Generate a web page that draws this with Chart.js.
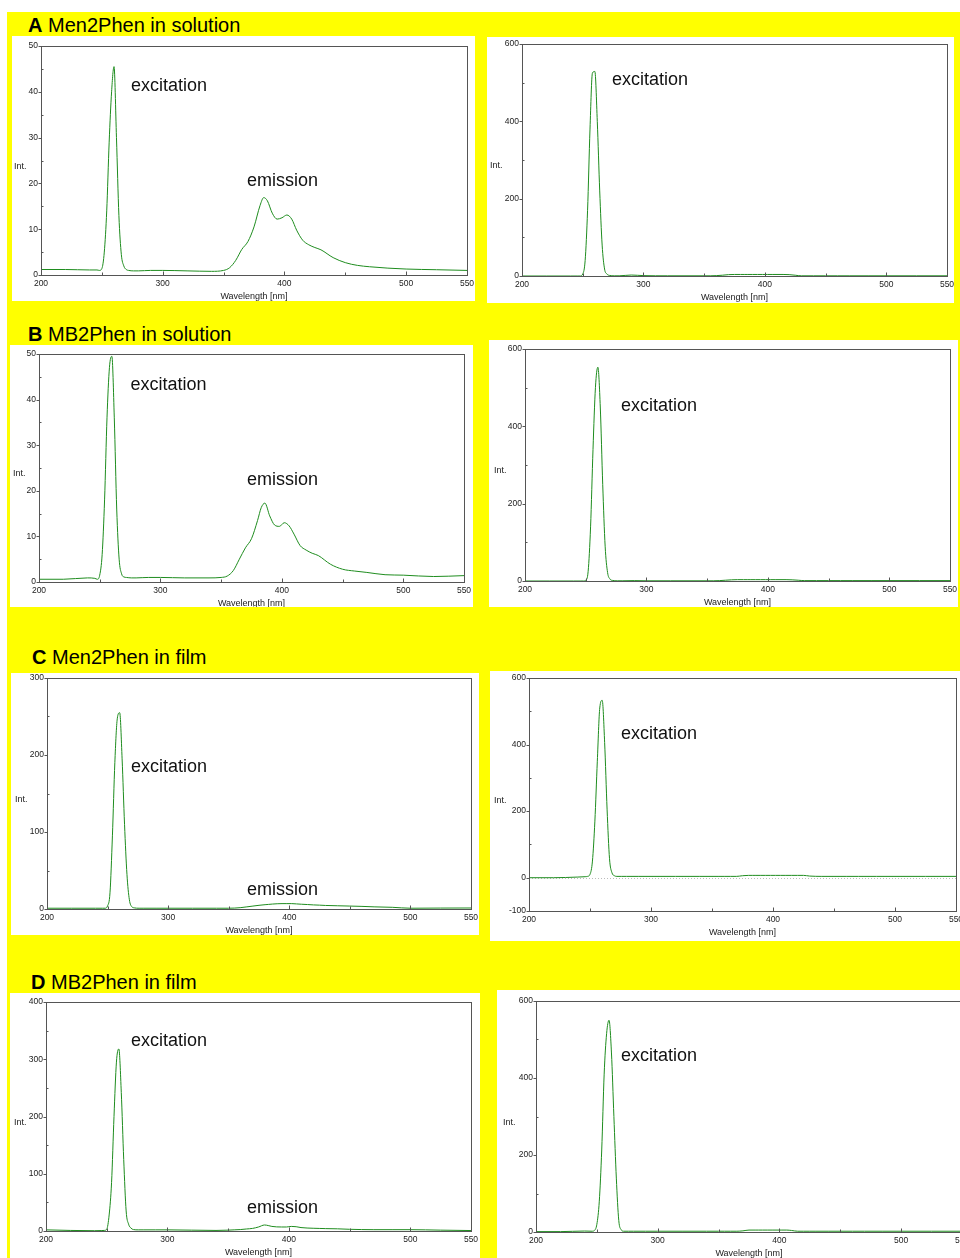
<!DOCTYPE html>
<html>
<head>
<meta charset="utf-8">
<script src="https://cdn.jsdelivr.net/npm/chart.js@4.4.1/dist/chart.umd.min.js"></script>
<style>
  html, body { margin: 0; padding: 0; background: #fff; overflow: hidden; }
  #page { position: relative; width: 960px; height: 1258px; overflow: hidden; }
  #yellow { position: absolute; left: 7px; top: 12px; width: 953px; height: 1246px; background: #ffff00; }
  .box { position: absolute; background: #fff; }
  .sec { position: absolute; font: 20px/24px "Liberation Sans", Arial, sans-serif; color: #000; white-space: nowrap; }
  canvas { position: absolute; }
</style>
</head>
<body>
<div id="page">
  <div id="yellow"></div>
  <div class="sec" style="left:28px;top:13px"><b>A</b> Men2Phen in solution</div>
  <div class="sec" style="left:28px;top:322px"><b>B</b> MB2Phen in solution</div>
  <div class="sec" style="left:32px;top:645px"><b>C</b> Men2Phen in film</div>
  <div class="sec" style="left:31px;top:970px"><b>D</b> MB2Phen in film</div>
</div>
<script>
// wavelength grid shared by all spectra (nm)
const wavelengths = [
  200, 220, 240, 246, 248, 250, 252, 254, 256, 258,
  260, 262, 264, 266, 268, 270, 272, 276, 280, 290,
  300, 320, 340, 350, 355, 360, 365, 370, 375, 380,
  383, 386, 390, 394, 398, 402, 406, 410, 415, 420,
  425, 430, 440, 450, 460, 470, 485, 500, 525, 550
]

// A: Men2Phen in solution
const men2PhenSol = [
  1.2, 1.2, 1.1, 1.1, 1.0, 1.4, 5, 14, 29, 40,
  45.5, 30, 13, 4.5, 2.0, 1.2, 1.0, 0.9, 0.9, 1.0,
  1.0, 0.9, 0.8, 1.0, 1.6, 3.2, 5.6, 7.3, 10.5, 15.2,
  16.9, 16.2, 13.5, 12.2, 12.5, 13.1, 12.2, 9.8, 7.6, 6.6,
  6.0, 5.5, 3.8, 2.7, 2.1, 1.8, 1.5, 1.3, 1.15, 1.0
]
const men2PhenSolExc = [
  0, 0, 0, 0, 0, 5, 40, 170, 380, 525,
  529, 400, 220, 80, 18, 5, 1.5, 0.5, 0.5, 2.5,
  1, 0.5, 0.5, 0.5, 0.5, 1, 2, 3.5, 4, 4,
  4, 4, 4, 4, 4, 4, 4, 4, 4, 3.5,
  2, 0.5, 0.5, 0.5, 0.5, 0.5, 0.5, 0.5, 0.5, 0.5
]

// B: MB2Phen in solution
const mb2PhenSol = [
  0.6, 0.6, 0.9, 0.8, 0.6, 1.5, 6, 18, 36, 47,
  49.5, 36, 16, 5, 1.8, 1.1, 1.0, 0.9, 0.9, 1.0,
  1.0, 0.9, 0.9, 1.0, 1.3, 2.5, 5, 7.5, 9.5, 13.5,
  16.3, 17.3, 14.5, 12.5, 12.2, 13, 12.3, 10.5, 8, 7,
  6.3, 5.8, 3.9, 2.8, 2.4, 2.1, 1.6, 1.5, 1.2, 1.4
]
const mb2PhenSolExc = [
  0, 0, 0, 0, 0, 2, 25, 140, 340, 500,
  553, 450, 250, 90, 22, 5, 1.5, 0.5, 0.5, 1,
  0.5, 0.5, 0.5, 0.5, 0.5, 1, 2, 3, 3.5, 3.5,
  3.5, 3.5, 3.5, 3.5, 3.5, 3.5, 3.5, 3.5, 3.5, 3,
  2, 1, 1, 1, 1, 1, 1, 1, 1, 1
]

// C: Men2Phen in film
const men2PhenFilm = [
  1, 1, 1, 1, 1, 4, 21, 95, 190, 247,
  255, 195, 110, 45, 12, 3, 1.5, 1, 1, 1,
  1, 1, 1, 1, 1.2, 1.8, 2.8, 3.8, 4.8, 5.6,
  6, 6.4, 6.8, 7, 7, 7, 6.6, 6.2, 5.8, 5.3,
  5, 4.6, 4.2, 3.8, 3.4, 2.8, 2.2, 1.0, 1.2, 1.3
]
const men2PhenFilmExc = [
  0, 0, 2, 3, 4, 10, 50, 170, 350, 510,
  533, 406, 206, 57, 15, 6, 4, 4, 4, 4,
  4, 4, 4, 4, 4, 4, 4, 4, 6, 7,
  7, 7, 7, 7, 7, 7, 7, 7, 7, 7,
  7, 5, 4, 4, 4, 4, 4, 4, 4, 4
]

// D: MB2Phen in film
const mb2PhenFilm = [
  2, 1, 0.5, 0.8, 1, 3, 28, 85, 200, 295,
  318, 242, 125, 35, 12, 5, 2.5, 2, 2, 2,
  2, 1.5, 1, 1.5, 2, 2.5, 3.5, 4.5, 7, 10.5,
  9.5, 8, 7.2, 7, 7, 8, 7.5, 6, 5.2, 4.8,
  4.5, 4.2, 3.8, 3, 2.5, 2.3, 2.3, 2.3, 1.5, 0.8
]
const mb2PhenFilmExc = [
  1, 1, 2.5, 2, 4, 20, 80, 213, 410, 515,
  550, 465, 300, 140, 30, 6, 2, 2, 2, 2,
  2, 2, 2, 2, 2, 2, 2, 3, 5, 5,
  5, 5, 5, 5, 5, 5, 5, 4, 2, 2,
  2, 2, 2, 2, 2, 2, 2, 2, 2, 2
]

// tick labels
const xTicks = [200, 300, 400, 500, 550]
const xMinor = [250, 350, 450]
const yTicks50 = [0, 10, 20, 30, 40, 50]
const yMinor50 = [5, 15, 25, 35, 45]
const yTicks600 = [0, 200, 400, 600]
const yMinor600 = [100, 300, 500]
const yTicks300 = [0, 100, 200, 300]
const yMinor300 = [50, 150, 250]
const yTicksNeg = [-100, 0, 200, 400, 600]
const yTicks400 = [0, 100, 200, 300, 400]
const yMinor400 = [50, 150, 250, 350]

const tickFont = '"Liberation Sans", Arial, sans-serif'
const lineColor = "rgb(30,140,30)"

// layout of each panel (page pixels)
const panels = [
  { data: men2PhenSol, box: [12, 36, 463, 265], plot: [41, 46, 467, 275], min: 0, max: 50, ticks: yTicks50, minor: yMinor50, intX: 14,
    labels: [["excitation", 131, 90.5], ["emission", 247, 185.5]] },
  { data: men2PhenSolExc, box: [487, 37, 467, 266], plot: [522, 44, 947, 276], min: 0, max: 600, ticks: yTicks600, minor: yMinor600, intX: 490,
    labels: [["excitation", 612, 84.5]] },
  { data: mb2PhenSol, box: [10, 345, 463, 262], plot: [39, 354, 464, 582], min: 0, max: 50, ticks: yTicks50, minor: yMinor50, intX: 13,
    labels: [["excitation", 130.5, 389.5], ["emission", 247, 485]] },
  { data: mb2PhenSolExc, box: [489, 340, 469, 267], plot: [525, 349, 950, 581], min: 0, max: 600, ticks: yTicks600, minor: yMinor600, intX: 494,
    labels: [["excitation", 621, 411]] },
  { data: men2PhenFilm, box: [11, 673, 468, 262], plot: [47, 678, 471, 909], min: 0, max: 300, ticks: yTicks300, minor: yMinor300, intX: 15,
    labels: [["excitation", 131, 771.5], ["emission", 247, 895]] },
  { data: men2PhenFilmExc, box: [490, 671, 470, 270], plot: [529, 678, 956, 911], min: -100, max: 600, ticks: yTicksNeg, minor: yMinor600, intX: 494,
    zeroLine: true, labels: [["excitation", 621, 738.5]] },
  { data: mb2PhenFilm, box: [10, 993, 470, 290], plot: [46, 1002, 471, 1231], min: 0, max: 400, ticks: yTicks400, minor: yMinor400, intX: 14,
    labels: [["excitation", 131, 1045.5], ["emission", 247, 1212.5]] },
  { data: mb2PhenFilmExc, box: [497, 990, 470, 290], plot: [536, 1001, 962, 1232], min: 0, max: 600, ticks: yTicks600, minor: yMinor600, intX: 503,
    labels: [["excitation", 621, 1061]] }
]

function framePlugin(p, cx, cy) {
  return {
    id: "frame",
    beforeDatasetsDraw(chart) {
      if (!p.zeroLine) return
      const { ctx, chartArea: a, scales: { y } } = chart
      const yz = Math.round(y.getPixelForValue(0)) + 0.5
      ctx.save()
      ctx.strokeStyle = "#bbb"
      ctx.setLineDash([1, 2])
      ctx.beginPath()
      ctx.moveTo(a.left, yz)
      ctx.lineTo(a.right, yz)
      ctx.stroke()
      ctx.restore()
    },
    afterDraw(chart) {
      const { ctx, chartArea: a, scales: { x, y } } = chart
      ctx.save()
      ctx.strokeStyle = "#555"
      ctx.lineWidth = 1
      const L = Math.round(a.left) + 0.5, R = Math.round(a.right) + 0.5
      const T = Math.round(a.top) + 0.5, B = Math.round(a.bottom) + 0.5
      ctx.strokeRect(L, T, R - L, B - T)
      ctx.beginPath()
      p.ticks.forEach(v => {
        const yy = Math.round(y.getPixelForValue(v)) + 0.5
        ctx.moveTo(L - 3, yy); ctx.lineTo(L, yy)
      })
      p.minor.forEach(v => {
        const yy = Math.round(y.getPixelForValue(v)) + 0.5
        ctx.moveTo(L, yy); ctx.lineTo(L + 2, yy)
      })
      xTicks.forEach(v => {
        const xx = Math.round(x.getPixelForValue(v)) + 0.5
        ctx.moveTo(xx, B); ctx.lineTo(xx, B - 4)
      })
      xMinor.forEach(v => {
        const xx = Math.round(x.getPixelForValue(v)) + 0.5
        ctx.moveTo(xx, B); ctx.lineTo(xx, B - 3)
      })
      ctx.stroke()

      ctx.fillStyle = "#222"
      ctx.font = '9px "Liberation Sans", Arial, sans-serif'
      ctx.textBaseline = "middle"
      ctx.textAlign = "left"
      ctx.fillText("Int.", p.intX - cx, (a.top + a.bottom) / 2 + 6)
      ctx.textAlign = "center"
      ctx.fillText("Wavelength [nm]", (a.left + a.right) / 2, a.bottom + 21.5)

      ctx.fillStyle = "#111"
      ctx.font = '18px "Liberation Sans", Arial, sans-serif'
      ctx.textAlign = "left"
      ctx.textBaseline = "alphabetic"
      p.labels.forEach(([t, lx, ly]) => ctx.fillText(t, lx - cx, ly - cy))
      ctx.restore()
    }
  }
}

const page = document.getElementById("page")

panels.forEach(p => {
  const [bx, by, bw, bh] = p.box
  const [pl, pt, pr, pb] = p.plot
  const box = document.createElement("div")
  box.className = "box"
  box.style.cssText = `left:${bx}px;top:${by}px;width:${bw}px;height:${bh}px`
  page.appendChild(box)

  const cx = bx, cy = by - 10
  const cw = pr - bx + 25
  const ch = by + bh - cy
  const canvas = document.createElement("canvas")
  canvas.width = cw
  canvas.height = ch
  canvas.style.cssText = `left:${cx}px;top:${cy}px;width:${cw}px;height:${ch}px`
  page.appendChild(canvas)

  const yW = pl - cx
  const xH = ch - (pb - cy)

  new Chart(canvas, {
    type: "line",
    data: {
      datasets: [{
        data: wavelengths.map((w, i) => ({ x: w, y: p.data[i] })),
        borderColor: lineColor,
        borderWidth: 1,
        pointRadius: 0,
        fill: false,
        cubicInterpolationMode: "monotone"
      }]
    },
    options: {
      responsive: false,
      animation: false,
      devicePixelRatio: 1,
      layout: { padding: { left: 0, top: pt - cy, right: 25, bottom: 0 } },
      plugins: { legend: { display: false }, tooltip: { enabled: false } },
      scales: {
        x: {
          type: "linear",
          min: 200,
          max: 550,
          afterBuildTicks: s => { s.ticks = xTicks.map(v => ({ value: v })) },
          afterFit: s => { s.height = xH },
          grid: { display: false, drawTicks: false },
          border: { display: false },
          ticks: { autoSkip: false, maxRotation: 0, padding: 4, color: "#222", font: { family: tickFont, size: 8.5 } }
        },
        y: {
          type: "linear",
          min: p.min,
          max: p.max,
          afterBuildTicks: s => { s.ticks = p.ticks.map(v => ({ value: v })) },
          afterFit: s => { s.width = yW },
          grid: { display: false, drawTicks: false },
          border: { display: false },
          ticks: { autoSkip: false, padding: 3, color: "#222", font: { family: tickFont, size: 8.5 } }
        }
      }
    },
    plugins: [framePlugin(p, cx, cy)]
  })
})
</script>
</body>
</html>
